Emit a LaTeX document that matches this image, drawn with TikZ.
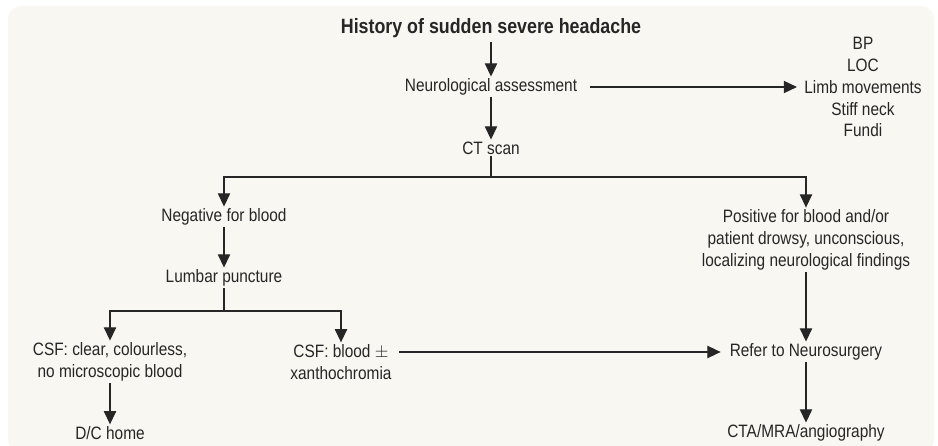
\documentclass[tikz,border=0pt]{standalone}
\usepackage{fontspec}
\setmainfont{Liberation Sans}[FakeStretch=0.86]
\usepackage{tikz}
\usetikzlibrary{arrows.meta}
\definecolor{paper}{HTML}{F8F7F1}
\definecolor{ink}{HTML}{262626}
\tikzset{
  lbl/.style ={text=ink, align=center, inner sep=1pt, font=\fontsize{10.2}{12.5}\selectfont},
  ttl/.style ={lbl, inner sep=2pt, font=\fontsize{11.8}{12.5}\selectfont\bfseries},
  ln/.style  ={draw=ink, line width=0.6pt},
  arr/.style ={ln, -{Triangle[width=7pt,length=7.5pt]}},
}
\begin{document}
\begin{tikzpicture}[x=0.02cm, y=-0.02cm]
  \useasboundingbox (0,0) rectangle (938,446);
  \fill[paper, rounded corners=0.26cm] (8,6) rectangle (934,452);
  % boxes
  \node[ttl] (hist) at (491,28) {History of sudden severe headache};
  \node[lbl] (neuro) at (491,87) {Neurological assessment};
  \node[lbl] (signs) at (863,87) {BP\\LOC\\Limb movements\\Stiff neck\\Fundi};
  \node[lbl] (ct) at (491,148) {CT scan};
  \node[lbl] (neg) at (224,217) {Negative for blood};
  \node[lbl] (pos) at (806,240) {Positive for blood and/or\\patient drowsy, unconscious,\\localizing neurological findings};
  \node[lbl] (lp) at (224,278) {Lumbar puncture};
  \node[lbl] (clear) at (110,362) {CSF: clear, colourless,\\no microscopic blood};
  \node[lbl] (bloody) at (341,362) {CSF: blood $\pm$\\xanthochromia};
  \node[lbl] (refer) at (806,352) {Refer to Neurosurgery};
  \node[lbl] (home) at (110,433) {D/C home};
  \node[lbl] (cta) at (806,433) {CTA/MRA/angiography};
  \coordinate (ctj) at (491,177);
  \coordinate (lpj) at (224,311);
  % connectors
  \draw[arr] (hist) -- (neuro);
  \draw[arr] (neuro) -- (ct);
  \draw[arr] ([xshift=6pt]neuro.east) -- ([xshift=-3pt]signs.west |- neuro.east);
  \draw[ln] (ct) -- (ctj);
  \draw[arr] (ctj) -| (neg);
  \draw[arr] (ctj) -| (pos);
  \draw[arr] (neg) -- (lp);
  \draw[ln] (lp) -- (lpj);
  \draw[arr] (lpj) -| (clear);
  \draw[arr] (lpj) -| (bloody);
  \draw[arr] (clear) -- (home);
  \draw[arr] ([xshift=3pt]bloody.east |- refer.west) -- ([xshift=-4pt]refer.west);
  \draw[arr] (pos) -- (refer);
  \draw[arr] (refer) -- (cta);
\end{tikzpicture}
\end{document}
